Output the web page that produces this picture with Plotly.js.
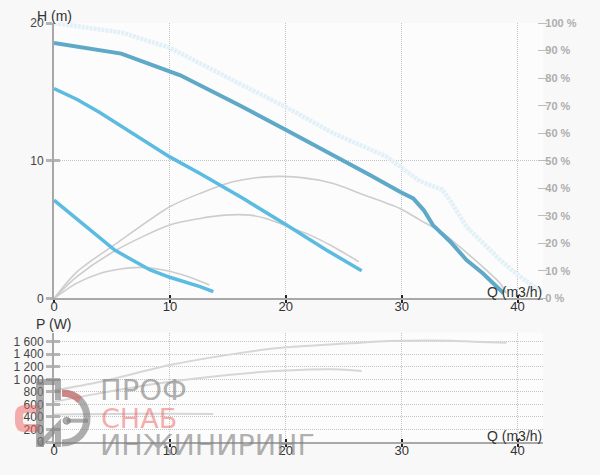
<!DOCTYPE html>
<html>
<head>
<meta charset="utf-8">
<script src="https://cdn.plot.ly/plotly-3.0.1.min.js"></script>
<style>html,body{margin:0;padding:0;background:#f8f8f8;}#chart{width:600px;height:475px;}</style>
</head>
<body>
<div id="chart"></div>
<script>
// ---- Data ----
const Q_TICKS = [0, 10, 20, 30, 40];
const H_TICKS = [0, 10, 20];
const EFF_TICKS = [0, 10, 20, 30, 40, 50, 60, 70, 80, 90, 100];
const EFF_LABELS = ['0 %', '10 %', '20 %', '30 %', '40 %', '50 %', '60 %', '70 %', '80 %', '90 %', '100 %'];
const P_TICKS = [0, 200, 400, 600, 800, 1000, 1200, 1400, 1600];
const P_LABELS = ['0', '200', '400', '600', '800', '1 000', '1 200', '1 400', '1 600'];

// max curve (light dotted)
const maxQ = [0, 5.9, 10, 12.6, 16, 20, 24.1, 28.7, 31.6, 33.5, 34.2, 35.6, 37.0, 38.5, 39.9, 41.5, 42.2];
const maxH = [20, 19.3, 18.2, 17.05, 15.6, 13.9, 12.0, 10.3, 8.5, 7.9, 7.1, 5.2, 4.0, 2.8, 1.8, 0.86, 0.4];

// head curves
const h1Q = [0, 5.8, 10.9, 12.6, 16.0, 20.07, 24.7, 27.3, 29.85, 31.0, 31.9, 32.7, 34.2, 35.6, 37.0, 38.8];
const h1H = [18.55, 17.78, 16.2, 15.48, 14.03, 12.22, 10.17, 8.95, 7.75, 7.27, 6.42, 5.33, 4.12, 2.79, 1.83, 0.38];
const h2Q = [0, 2, 3.95, 6.9, 9.99, 12.6, 16.3, 20.07, 23.5, 26.55];
const h2H = [15.24, 14.45, 13.5, 11.95, 10.28, 9.08, 7.27, 5.33, 3.52, 2.02];
const h3Q = [0, 2.6, 5.24, 6.25, 8.3, 9.99, 12.6, 13.75];
const h3H = [7.14, 5.35, 3.52, 3.03, 2.07, 1.54, 0.86, 0.49];

// efficiency-like grey arcs
const e1Q = [0, 2, 5.39, 9.99, 12.6, 15.45, 18.3, 21.2, 24.1, 26.4, 29.85, 31.6, 33.6, 35.0, 37.0, 38.5, 39.05];
const e1H = [0, 1.95, 4.0, 6.66, 7.63, 8.47, 8.83, 8.79, 8.35, 7.63, 6.54, 5.69, 4.73, 3.76, 2.3, 1.1, 0.38];
const e2Q = [0, 2, 5.39, 9.99, 12.6, 14.75, 16.9, 18.3, 20.07, 22.1, 24.1, 26.3];
const e2H = [0, 1.6, 3.52, 5.33, 5.81, 6.05, 6.05, 5.81, 5.26, 4.6, 3.76, 2.67];
const e3Q = [0, 1.93, 3.95, 5.6, 7.4, 9.2, 10.85, 12.2, 13.4];
const e3H = [0, 1.1, 1.82, 2.12, 2.26, 2.1, 1.78, 1.4, 0.98];

// power curves
const p1Q = [0, 4, 10, 15, 20, 25.5, 29, 34.2, 36.2, 39.05];
const p1W = [820, 960, 1227, 1390, 1510, 1574, 1611, 1616, 1600, 1584];
const p2Q = [0, 4, 10, 15, 20, 24.7, 26.55];
const p2W = [640, 780, 960, 1070, 1140, 1158, 1131];
const p3Q = [0, 5, 10, 13.75];
const p3W = [440, 448, 450, 445];

// ---- Styles ----
const FONT = 'Liberation Sans, Arial, sans-serif';
const GREY_ARC = {color: '#cdcdcd', width: 1.6, shape: 'spline', smoothing: 0.8};
const GREY_P = {color: '#d6d6d6', width: 2, shape: 'spline', smoothing: 0.8};
const GRID_DASH = '1px,1px';

const traces = [
  {x: maxQ, y: maxH, xaxis: 'x', yaxis: 'y', mode: 'lines', line: {color: '#e2f0f7', width: 4.5, dash: '3px,1px'}},
  {x: e1Q, y: e1H, xaxis: 'x', yaxis: 'y', mode: 'lines', line: GREY_ARC},
  {x: e2Q, y: e2H, xaxis: 'x', yaxis: 'y', mode: 'lines', line: GREY_ARC},
  {x: e3Q, y: e3H, xaxis: 'x', yaxis: 'y', mode: 'lines', line: GREY_ARC},
  {x: h1Q, y: h1H, xaxis: 'x', yaxis: 'y', mode: 'lines', line: {color: '#5ea9c8', width: 4}},
  {x: h2Q, y: h2H, xaxis: 'x', yaxis: 'y', mode: 'lines', line: {color: '#5cbbe0', width: 3.5}},
  {x: h3Q, y: h3H, xaxis: 'x', yaxis: 'y', mode: 'lines', line: {color: '#5cbbe0', width: 3.5}},
  {x: p1Q, y: p1W, xaxis: 'x2', yaxis: 'y2', mode: 'lines', line: GREY_P},
  {x: p2Q, y: p2W, xaxis: 'x2', yaxis: 'y2', mode: 'lines', line: GREY_P},
  {x: p3Q, y: p3W, xaxis: 'x2', yaxis: 'y2', mode: 'lines', line: GREY_P},
  // empty traces so the overlay axes are drawn
  {x: [], y: [], xaxis: 'x', yaxis: 'y3', mode: 'lines'},
  {x: [], y: [], xaxis: 'x3', yaxis: 'y4', mode: 'lines'},
  {x: [], y: [], xaxis: 'x4', yaxis: 'y5', mode: 'lines'}
];
traces.forEach(t => { t.showlegend = false; t.hoverinfo = 'skip'; });

const QMAX = 42.2;
const xBase = {
  range: [0, QMAX], tickvals: Q_TICKS, ticks: 'outside', ticklen: 3, tickwidth: 2, tickcolor: '#222',
  showline: true, linecolor: '#a8a8a8', linewidth: 2, showgrid: true, gridcolor: '#c4c4c4', griddash: GRID_DASH,
  gridwidth: 1, zeroline: false, tickfont: {family: FONT, size: 13, color: '#333'}, ticklabelstandoff: -8, fixedrange: true
};
const xOver = {
  range: [0, QMAX], tickvals: Q_TICKS, ticks: 'inside', ticklen: 3, tickwidth: 2, tickcolor: '#222',
  showticklabels: false, showline: false, showgrid: false, zeroline: false, fixedrange: true
};
const yBase = {
  ticks: 'outside', ticklen: 6, tickwidth: 3, tickcolor: '#b4b4b4',
  showline: true, linecolor: '#a8a8a8', linewidth: 2, showgrid: true, gridcolor: '#c4c4c4', griddash: GRID_DASH,
  gridwidth: 1, zeroline: false, tickfont: {family: FONT, size: 12, color: '#444'}, ticklabelshift: -3.5, fixedrange: true
};
const yOver = {
  ticks: 'inside', ticklen: 6, tickwidth: 3, tickcolor: '#b4b4b4',
  showticklabels: false, showline: false, showgrid: false, zeroline: false, fixedrange: true
};

const TOP_DOM = [0.3425, 1];
const BOT_DOM = [0, 0.2609];

const GREY_WM = 'rgba(125,125,125,0.62)';
const RED_WM = 'rgba(235,95,95,0.5)';

function pxShape(path, color, width, fill) {
  return {type: 'path', xref: 'paper', yref: 'paper', xsizemode: 'pixel', ysizemode: 'pixel',
    xanchor: 0, yanchor: 0, path: path, line: {color: color, width: width},
    fillcolor: fill || 'rgba(0,0,0,0)', layer: 'above'};
}

const layout = {
  width: 600, height: 475,
  margin: {l: 54, r: 57, t: 23, b: 33, pad: 0},
  paper_bgcolor: '#f8f8f8', plot_bgcolor: '#fcfcfc',
  font: {family: FONT, color: '#333'},
  showlegend: false,
  xaxis: Object.assign({}, xBase, {domain: [0, 1], anchor: 'y'}),
  xaxis2: Object.assign({}, xBase, {domain: [0, 1], anchor: 'y2'}),
  xaxis3: Object.assign({}, xOver, {overlaying: 'x', anchor: 'y'}),
  xaxis4: Object.assign({}, xOver, {overlaying: 'x2', anchor: 'y2'}),
  yaxis: Object.assign({}, yBase, {domain: TOP_DOM, anchor: 'x', range: [0, 20], tickvals: H_TICKS}),
  yaxis2: Object.assign({}, yBase, {domain: BOT_DOM, anchor: 'x2', range: [0, 1744], tickvals: P_TICKS, ticktext: P_LABELS}),
  yaxis3: {
    overlaying: 'y', side: 'right', anchor: 'free', position: 0.988, range: [0, 100],
    tickvals: EFF_TICKS, ticktext: EFF_LABELS, ticks: 'outside', ticklen: 9, tickwidth: 1, tickcolor: '#bdbdbd',
    showline: false, showgrid: false, zeroline: false, ticklabelshift: -3.5, ticklabelstandoff: -4,
    tickfont: {family: FONT, size: 11, color: '#adadad', weight: 'bold'}, fixedrange: true
  },
  yaxis4: Object.assign({}, yOver, {overlaying: 'y', anchor: 'x', range: [0, 20], tickvals: H_TICKS}),
  yaxis5: Object.assign({}, yOver, {overlaying: 'y2', anchor: 'x2', range: [0, 1744], tickvals: P_TICKS}),
  annotations: [
    {text: 'H (m)', xref: 'paper', yref: 'paper', x: 0.002, y: 1.0167, xanchor: 'center', yanchor: 'middle', showarrow: false, font: {family: FONT, size: 14, color: '#333'}},
    {text: 'P (W)', xref: 'paper', yref: 'paper', x: 0.001, y: 0.2816, xanchor: 'center', yanchor: 'middle', showarrow: false, font: {family: FONT, size: 14, color: '#333'}},
    {text: 'Q (m3/h)', xref: 'paper', yref: 'paper', x: 0.9427, y: 0.358, xanchor: 'center', yanchor: 'middle', showarrow: false, font: {family: FONT, size: 14, color: '#333'}},
    {text: 'Q (m3/h)', xref: 'paper', yref: 'paper', x: 0.9427, y: 0.0143, xanchor: 'center', yanchor: 'middle', showarrow: false, font: {family: FONT, size: 14, color: '#333'}},
    // watermark
    {text: 'ПРОФ', xref: 'paper', yref: 'paper', x: 0.184, y: 0.124, xanchor: 'center', yanchor: 'middle', showarrow: false, font: {family: 'DejaVu Sans', size: 29, color: GREY_WM}},
    {text: 'СНАБ', xref: 'paper', yref: 'paper', x: 0.174, y: 0.056, xanchor: 'center', yanchor: 'middle', showarrow: false, font: {family: 'DejaVu Sans', size: 27, color: RED_WM}},
    {text: 'ИНЖИНИРИНГ', xref: 'paper', yref: 'paper', x: 0.313, y: -0.008, xanchor: 'center', yanchor: 'middle', showarrow: false, font: {family: 'DejaVu Sans', size: 28.5, color: GREY_WM}}
  ],
  shapes: [
    // red "C" of the logo
    pxShape('M -14 33 L -29 33 Q -35 33 -35 27 L -35 20 Q -35 14 -29 14 L -14 14', RED_WM, 8),
    // grey frame pieces
    pxShape('M -17 60 L 4 60 L 4 42', GREY_WM, 6),
    pxShape('M -14 60 L -14 -5', GREY_WM, 8),
    pxShape('M -14 -3 L 4 16 L 4 -5', GREY_WM, 6),
    // gear arc
    pxShape('M 8 49 C 41.3 49 41.3 -1 8 -1', GREY_WM, 7),
    pxShape('M 8 49 C 14.6 49 21 46.4 25.7 41.7', RED_WM, 7),
    pxShape('M 12.7 21.3 L 34 21.3', GREY_WM, 4),
    pxShape('M 9 21.3 C 9 26 16.4 26 16.4 21.3 C 16.4 16.6 9 16.6 9 21.3 Z', GREY_WM, 1, GREY_WM)
  ]
};

Plotly.newPlot('chart', traces, layout, {displayModeBar: false, staticPlot: true});
</script>
</body>
</html>
